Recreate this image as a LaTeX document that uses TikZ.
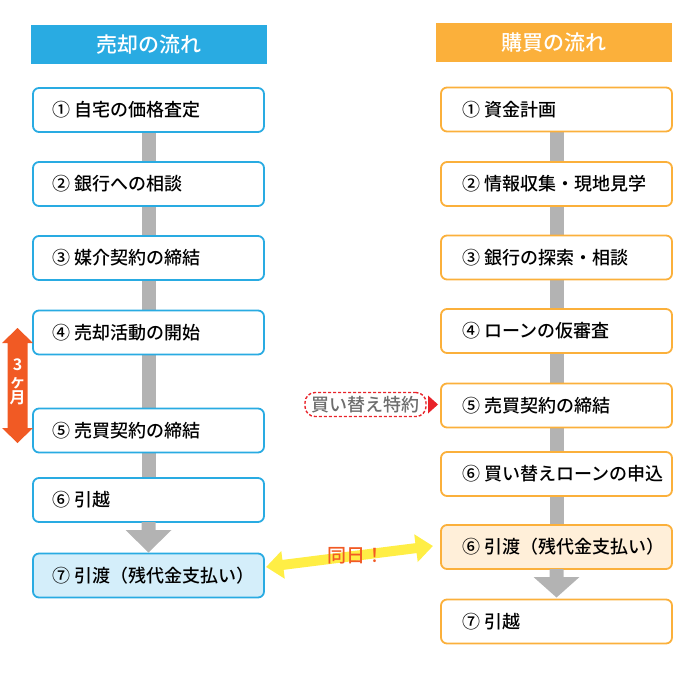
\documentclass[tikz,border=0pt]{standalone}
\usepackage{fontspec}
\setmainfont{Noto Sans CJK JP Medium}[BoldFont={Noto Sans CJK JP Bold}]
\usetikzlibrary{calc,backgrounds}
\definecolor{blueC}{HTML}{29ABE2}
\definecolor{orangeC}{HTML}{FBB03B}
\definecolor{lblue}{HTML}{D4EEFA}
\definecolor{lorange}{HTML}{FFEFD9}
\definecolor{barC}{HTML}{B3B3B3}
\definecolor{redC}{HTML}{E8232A}
\definecolor{vermC}{HTML}{F15A24}
\definecolor{yelC}{HTML}{FFEE45}
\definecolor{grayT}{HTML}{6D6D6D}
\newcommand\boxtxtL[1]{\makebox[193pt][l]{#1}}
\newcommand\boxtxtR[1]{\makebox[189pt][l]{#1}}
\begin{document}
\begin{tikzpicture}[x=1pt,y=-1pt,
  every node/.style={inner sep=0pt, outer sep=0pt},
  hdr/.style={minimum width=236pt, minimum height=39pt, text=white, font=\fontsize{21}{24}\selectfont},
  lbox/.style={draw=blueC, line width=1.8pt, rounded corners=6pt, fill=white, inner xsep=19pt, minimum height=44pt, font=\fontsize{18}{21}\selectfont},
  rbox/.style={draw=orangeC, line width=1.8pt, rounded corners=6pt, fill=white, inner xsep=21pt, minimum height=44pt, font=\fontsize{18}{21}\selectfont},
  gbar/.style={draw=barC, line width=14pt},
  dashbox/.style={draw=redC, dashed, dash pattern=on 3pt off 2pt, line width=1.4pt, rounded corners=10pt, minimum width=121pt, minimum height=24pt, text=grayT, font=\fontsize{18}{21}\selectfont}
]
\useasboundingbox (0,0) rectangle (700,700);

% headers
\node[hdr, fill=blueC] (lh) at (149,44.5) {売却の流れ};
\node[hdr, fill=orangeC] (rh) at (554,43) {購買の流れ};

% left column
\node[lbox] (l1) at (148.5,110) {\boxtxtL{① 自宅の価格査定}};
\node[lbox] (l2) at (148.5,184) {\boxtxtL{② 銀行への相談}};
\node[lbox] (l3) at (148.5,258) {\boxtxtL{③ 媒介契約の締結}};
\node[lbox] (l4) at (148.5,332.5) {\boxtxtL{④ 売却活動の開始}};
\node[lbox] (l5) at (148.5,430.5) {\boxtxtL{⑤ 売買契約の締結}};
\node[lbox] (l6) at (148.5,500) {\boxtxtL{⑥ 引越}};
\node[lbox, fill=lblue] (l7) at (148.5,575.5) {\boxtxtL{⑦ 引渡（残代金支払い）}};

% right column
\node[rbox] (r1) at (556.5,109.5) {\boxtxtR{① 資金計画}};
\node[rbox] (r2) at (556.5,184) {\boxtxtR{② 情報収集・現地見学}};
\node[rbox] (r3) at (556.5,257.5) {\boxtxtR{③ 銀行の探索・相談}};
\node[rbox] (r4) at (556.5,331) {\boxtxtR{④ ローンの仮審査}};
\node[rbox] (r5) at (556.5,405.5) {\boxtxtR{⑤ 売買契約の締結}};
\node[rbox] (r6) at (556.5,474) {\boxtxtR{⑥ 買い替えローンの申込}};
\node[rbox, fill=lorange] (r6b) at (556.5,547) {\boxtxtR{⑥ 引渡（残代金支払い）}};
\node[rbox] (r7) at (556.5,621.5) {\boxtxtR{⑦ 引越}};

% gray connectors
\begin{scope}[on background layer]
  \draw[gbar] (l1) -- (l2);
  \draw[gbar] (l2) -- (l3);
  \draw[gbar] (l3) -- (l4);
  \draw[gbar] (l4) -- (l5);
  \draw[gbar] (l5) -- (l6);
  \draw[gbar] (r1) -- (r2);
  \draw[gbar] (r2) -- (r3);
  \draw[gbar] (r3) -- (r4);
  \draw[gbar] (r4) -- (r5);
  \draw[gbar] (r5) -- (r6);
  \draw[gbar] (r6) -- (r6b);
\end{scope}

% gray arrows with heads
\fill[barC] ($(l6.south)+(-7,0)$) -- ($(l6.south)+(7,0)$) -- ($(l6.south)+(7,8)$) -- ($(l6.south)+(23,8)$)
  -- ($(l7.north)+(0,-1)$) -- ($(l6.south)+(-23,8)$) -- ($(l6.south)+(-7,8)$) -- cycle;
\fill[barC] ($(r6b.south)+(-7,0)$) -- ($(r6b.south)+(7,0)$) -- ($(r6b.south)+(7,8)$) -- ($(r6b.south)+(23,8)$)
  -- ($(r7.north)+(0,-2)$) -- ($(r6b.south)+(-23,8)$) -- ($(r6b.south)+(-7,8)$) -- cycle;

% 3ヶ月 double arrow
\fill[vermC] (17.5,328) -- (33,343) -- (27.5,343) -- (27.5,428) -- (33,428) -- (17.5,443)
  -- (2,428) -- (7.5,428) -- (7.5,343) -- (2,343) -- cycle;
\node[text=white, align=center, font=\fontsize{16}{16.5}\selectfont\bfseries] (mon) at (17.5,382) {3\\ヶ\\月};

% 買い替え特約
\node[dashbox] (tok) at (365.5,404.5) {買い替え特約};
\fill[redC] ($(tok.east)+(2,-9)$) -- ($(tok.east)+(12,0)$) -- ($(tok.east)+(2,9)$) -- cycle;

% 同日 double arrow
\coordinate (ya) at ($(l7.east)+(2,-8.5)$);
\coordinate (yb) at ($(r6b.west)+(-8,-1)$);
\begin{scope}[shift={($(ya)!0.5!(yb)$)}, rotate=7.17]
  \fill[yelC] (-84,0) -- (-67,14) -- (-67,5) -- (67,5) -- (67,14) -- (84,0) -- (67,-14) -- (67,-5)
    -- (-67,-5) -- (-67,-14) -- cycle;
\end{scope}
\node[text=vermC, font=\fontsize{19}{22}\selectfont] (same) at (356,556) {同日！};
\end{tikzpicture}
\end{document}
